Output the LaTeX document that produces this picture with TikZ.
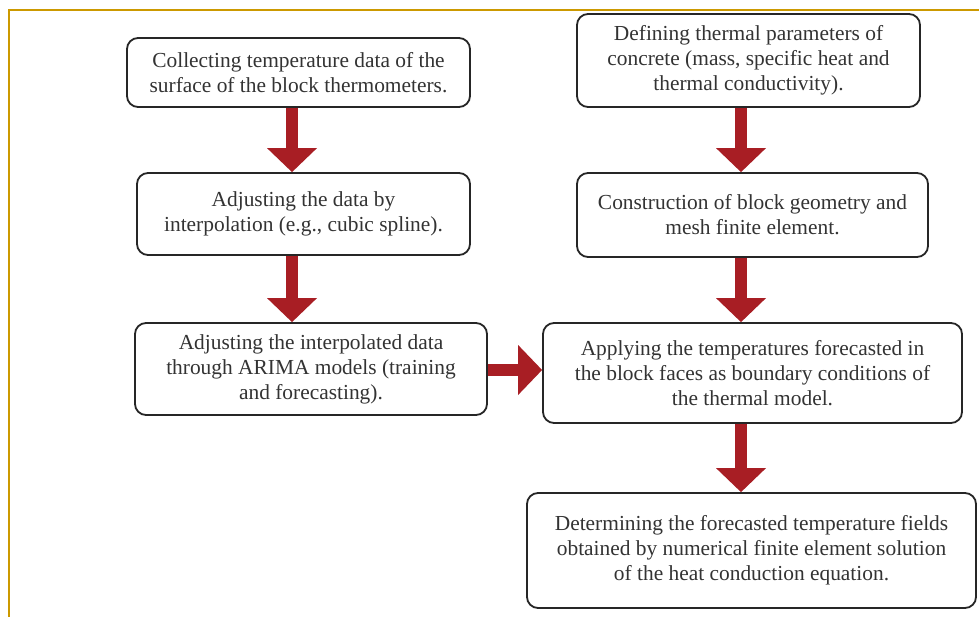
\documentclass[tikz,border=0pt]{standalone}
\usepackage{fontspec}
\setmainfont{Liberation Serif}
\usepackage{tikz}
\usetikzlibrary{arrows.meta,positioning}
\definecolor{framegold}{RGB}{204,153,0}
\definecolor{arrowred}{RGB}{168,30,36}
\tikzset{
  step box/.style={draw=black!85,line width=1.8pt,rounded corners=11pt,fill=white,align=center,inner sep=0pt,text=black!80,font=\fontsize{21.4}{25}\selectfont},
  red arrow/.style={draw=arrowred,line width=12.5pt,-{Triangle[length=24pt,width=50pt,line width=0pt]}},
  frame line/.style={draw=framegold,line width=2.2pt},
}

\begin{document}
\begin{tikzpicture}[x=1pt,y=-1pt]
  \useasboundingbox (0,0) rectangle (979,617);
  \draw[frame line] (9,617) -- (9,10) -- (979,10);
  \coordinate (lcol) at (292,0);
  \coordinate (rcol) at (741,0);
  % left column
  \node[step box,minimum width=343pt,minimum height=69pt] (collect) at (298.5,72.5) {Collecting temperature data of the\\surface of the block thermometers.};
  \node[step box,minimum width=333pt,minimum height=82pt] (interp) at (303.5,214) {Adjusting the data by\\interpolation (e.g., cubic spline).};
  \node[step box,minimum width=352pt,minimum height=92pt] (arima) at (311,369) {Adjusting the interpolated data\\through ARIMA models (training\\and forecasting).};
  % right column
  \node[step box,minimum width=343pt,minimum height=93pt] (params) at (748.5,60.5) {Defining thermal parameters of\\concrete (mass, specific heat and\\thermal conductivity).};
  \node[step box,minimum width=351pt,minimum height=84pt] (mesh) at (752.5,215) {Construction of block geometry and\\mesh finite element.};
  \node[step box,minimum width=419pt,minimum height=100pt] (bound) at (752.5,373) {Applying the temperatures forecasted in\\the block faces as boundary conditions of\\the thermal model.};
  \node[step box,minimum width=449pt,minimum height=115pt] (fields) at (751.5,550.5) {Determining the forecasted temperature fields\\obtained by numerical finite element solution\\of the heat conduction equation.};
  \draw[red arrow] (collect.south -| lcol) -- (interp.north -| lcol);
  \draw[red arrow] (interp.south -| lcol) -- (arima.north -| lcol);
  \draw[red arrow] (params.south -| rcol) -- (mesh.north -| rcol);
  \draw[red arrow] (mesh.south -| rcol) -- (bound.north -| rcol);
  \draw[red arrow] (bound.south -| rcol) -- (fields.north -| rcol);
  \draw[red arrow] (arima.east |- 0,370) -- (bound.west |- 0,370);
\end{tikzpicture}
\end{document}
